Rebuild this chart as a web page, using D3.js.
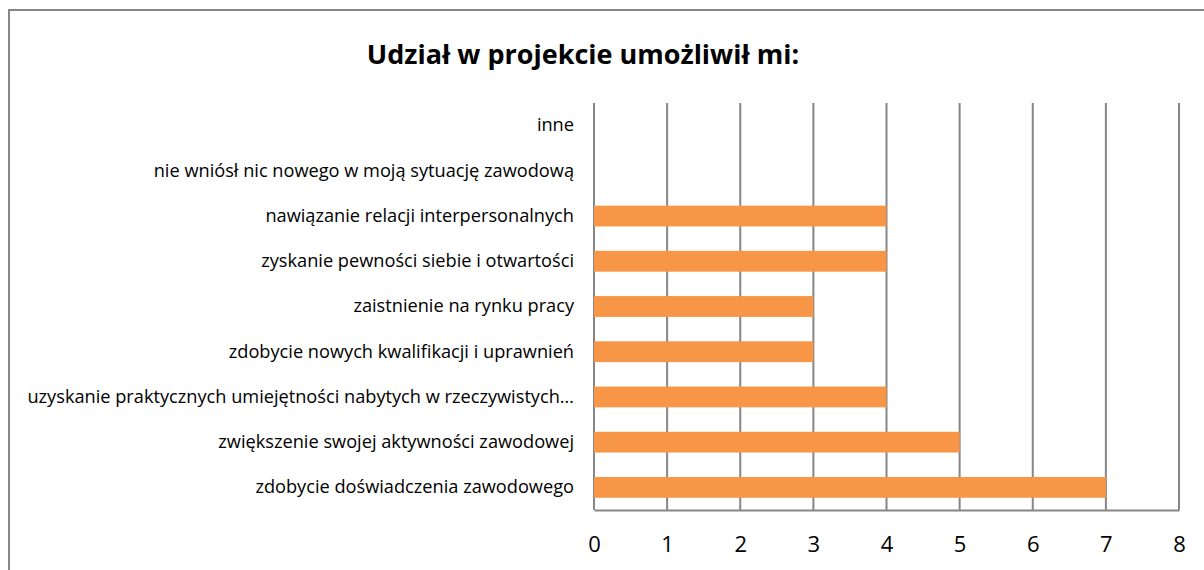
<!DOCTYPE html>
<html>
<head>
<meta charset="utf-8">
<script src="https://cdn.jsdelivr.net/npm/d3@7"></script>
<style>
  body { margin: 0; background: #fff; }
  svg { display: block; font-family: "Open Sans", Lato, sans-serif; }
</style>
</head>
<body>
<div id="chart"></div>
<script>
// categories from top to bottom, as in the picture
const categories = [
    "inne",
    "nie wniósł nic nowego w moją sytuację zawodową",
    "nawiązanie relacji interpersonalnych",
    "zyskanie pewności siebie i otwartości",
    "zaistnienie na rynku pracy",
    "zdobycie nowych kwalifikacji i uprawnień",
    "uzyskanie praktycznych umiejętności nabytych w rzeczywistych…",
    "zwiększenie swojej aktywności zawodowej",
    "zdobycie doświadczenia zawodowego "
];
const values = [0, 0, 4, 4, 3, 3, 4, 5, 7];
const tickValues = [0, 1, 2, 3, 4, 5, 6, 7, 8];
const title = "Udział w projekcie umożliwił mi:";

const W = 1204, H = 570;
let margin = { top: 103, right: 25, bottom: 60, left: 594 };
let width = W - margin.left - margin.right;
let height = H - margin.top - margin.bottom;

let svg = d3.select("#chart")
    .append("svg")
    .attr("width", W)
    .attr("height", H);

// outer frame (only left and top edges fall inside the picture)
svg.append("rect")
    .attr("x", 9)
    .attr("y", 10)
    .attr("width", W + 20)
    .attr("height", H + 20)
    .attr("fill", "none")
    .attr("stroke", "#878787")
    .attr("stroke-width", 2);

svg.append("text")
    .attr("x", 583)
    .attr("y", 64)
    .attr("text-anchor", "middle")
    .style("font-size", "27px")
    .style("font-weight", "bold")
    .text(title);

let g = svg.append("g")
    .attr("transform", "translate(" + margin.left + "," + margin.top + ")");

let x = d3.scaleLinear().domain([0, 8]).range([0, width]);
let y = d3.scaleBand().domain(categories).range([0, height]).paddingInner(0.54).paddingOuter(0.27);

// vertical gridlines
g.selectAll(".grid")
    .data(tickValues)
    .enter()
    .append("line")
    .attr("x1", d => x(d))
    .attr("x2", d => x(d))
    .attr("y1", 0)
    .attr("y2", height)
    .attr("stroke", "#868686")
    .attr("stroke-width", 2);

// bottom axis
let xAxis = g.append("g")
    .attr("transform", "translate(0," + height + ")")
    .call(d3.axisBottom(x).tickValues(tickValues).tickSize(0).tickPadding(26));
xAxis.select(".domain").attr("stroke", "#868686").attr("stroke-width", 2);
xAxis.selectAll("text")
    .style("font-size", "22px")
    .style("font-family", "'Open Sans', Lato, sans-serif")
    .attr("fill", "#000");

// category labels
let yAxis = g.append("g")
    .call(d3.axisLeft(y).tickSize(0).tickPadding(20));
yAxis.select(".domain").remove();
yAxis.selectAll("text")
    .style("font-size", "18.2px")
    .style("font-family", "'Open Sans', Lato, sans-serif")
    .attr("fill", "#000");

// bars
g.selectAll(".bar")
    .data(values)
    .enter()
    .append("rect")
    .attr("x", 0)
    .attr("y", (d, i) => y(categories[i]))
    .attr("width", d => x(d))
    .attr("height", y.bandwidth())
    .attr("fill", "#f79646");
</script>
</body>
</html>
